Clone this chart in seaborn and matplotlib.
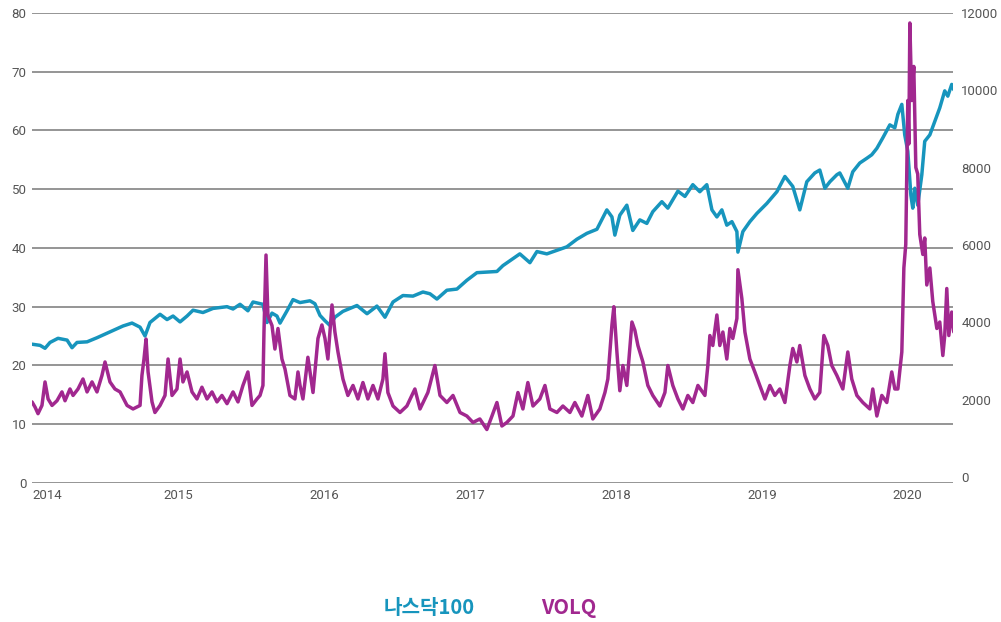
import matplotlib
matplotlib.use("Agg")
import matplotlib.pyplot as plt
import seaborn as sns

# --------------------------
# Data
# --------------------------
years = [2014, 2015, 2016, 2017, 2018, 2019, 2020]
year_labels = ["2014", "2015", "2016", "2017", "2018", "2019", "2020"]

nasdaq_t = [
    2014.000, 2014.055, 2014.089, 2014.123, 2014.178, 2014.240, 2014.274, 2014.308,
    2014.377, 2014.445, 2014.534, 2014.623, 2014.685, 2014.740, 2014.774, 2014.808,
    2014.877, 2014.925, 2014.966, 2015.014, 2015.062, 2015.103, 2015.171, 2015.240,
    2015.336, 2015.377, 2015.425, 2015.479, 2015.514, 2015.582, 2015.610, 2015.644,
    2015.678, 2015.699, 2015.747, 2015.788, 2015.836, 2015.904, 2015.938, 2015.973,
    2016.007, 2016.041, 2016.075, 2016.130, 2016.226, 2016.295, 2016.363, 2016.418,
    2016.473, 2016.541, 2016.610, 2016.678, 2016.726, 2016.774, 2016.842, 2016.911,
    2016.979, 2017.048, 2017.116, 2017.185, 2017.226, 2017.295, 2017.342, 2017.411,
    2017.459, 2017.527, 2017.596, 2017.664, 2017.733, 2017.801, 2017.870, 2017.938,
    2017.973, 2017.993, 2018.027, 2018.075, 2018.116, 2018.164, 2018.212, 2018.253,
    2018.315, 2018.356, 2018.425, 2018.473, 2018.527, 2018.575, 2018.623, 2018.658,
    2018.692, 2018.726, 2018.760, 2018.795, 2018.829, 2018.836, 2018.870, 2018.918,
    2018.966, 2019.034, 2019.103, 2019.158, 2019.212, 2019.260, 2019.308, 2019.363,
    2019.397, 2019.432, 2019.466, 2019.514, 2019.534, 2019.589, 2019.623, 2019.671,
    2019.719, 2019.753, 2019.788, 2019.829, 2019.877, 2019.911, 2019.932, 2019.959,
    2019.979, 2020.000, 2020.021, 2020.034, 2020.048, 2020.068, 2020.096, 2020.116,
    2020.151, 2020.185, 2020.219, 2020.253, 2020.274, 2020.301, 2020.315,
]
nasdaq = [
    3438, 3408, 3332, 3483, 3590, 3544, 3347, 3483,
    3499, 3605, 3756, 3908, 3984, 3878, 3650, 3999,
    4211, 4075, 4166, 4014, 4166, 4317, 4257, 4363,
    4408, 4348, 4469, 4302, 4529, 4469, 3999, 4241,
    4166, 3984, 4302, 4590, 4514, 4560, 4484, 4181,
    4044, 3923, 4135, 4287, 4438, 4226, 4423, 4135,
    4529, 4696, 4681, 4787, 4742, 4605, 4833, 4863,
    5090, 5287, 5303, 5318, 5469, 5651, 5773, 5545,
    5833, 5773, 5864, 5955, 6152, 6303, 6409, 6910,
    6728, 6258, 6773, 7031, 6379, 6652, 6561, 6864,
    7122, 6955, 7395, 7258, 7562, 7380, 7562, 6910,
    6728, 6910, 6515, 6606, 6349, 5818, 6349, 6606,
    6819, 7076, 7380, 7774, 7516, 6910, 7637, 7865,
    7940, 7470, 7637, 7819, 7865, 7470, 7895, 8122,
    8244, 8335, 8501, 8774, 9108, 9032, 9381, 9638,
    8850, 8426, 7289, 6955, 7470, 7031, 7819, 8683,
    8850, 9199, 9547, 9987, 9851, 10154, 10017,
]

volq_t = [
    2014.000, 2014.021, 2014.041, 2014.068, 2014.089, 2014.110, 2014.137, 2014.171,
    2014.205, 2014.226, 2014.260, 2014.281, 2014.315, 2014.349, 2014.377, 2014.411,
    2014.445, 2014.479, 2014.500, 2014.534, 2014.568, 2014.603, 2014.651, 2014.692,
    2014.740, 2014.753, 2014.767, 2014.781, 2014.795, 2014.822, 2014.842, 2014.877,
    2014.911, 2014.932, 2014.959, 2014.993, 2015.014, 2015.034, 2015.062, 2015.096,
    2015.130, 2015.164, 2015.199, 2015.233, 2015.267, 2015.301, 2015.336, 2015.377,
    2015.411, 2015.445, 2015.479, 2015.507, 2015.541, 2015.562, 2015.582, 2015.589,
    2015.603, 2015.616, 2015.644, 2015.664, 2015.685, 2015.712, 2015.733, 2015.767,
    2015.801, 2015.822, 2015.836, 2015.856, 2015.890, 2015.925, 2015.959, 2015.986,
    2016.007, 2016.027, 2016.055, 2016.075, 2016.096, 2016.130, 2016.164, 2016.199,
    2016.233, 2016.267, 2016.301, 2016.336, 2016.370, 2016.404, 2016.418, 2016.438,
    2016.473, 2016.521, 2016.568, 2016.623, 2016.658, 2016.712, 2016.760, 2016.795,
    2016.842, 2016.884, 2016.932, 2016.979, 2017.021, 2017.068, 2017.116, 2017.151,
    2017.185, 2017.219, 2017.253, 2017.295, 2017.329, 2017.363, 2017.397, 2017.432,
    2017.479, 2017.514, 2017.548, 2017.596, 2017.637, 2017.685, 2017.719, 2017.767,
    2017.808, 2017.842, 2017.890, 2017.925, 2017.945, 2017.973, 2017.986, 2018.007,
    2018.027, 2018.048, 2018.075, 2018.110, 2018.130, 2018.151, 2018.185, 2018.219,
    2018.253, 2018.301, 2018.336, 2018.356, 2018.390, 2018.425, 2018.459, 2018.493,
    2018.527, 2018.562, 2018.610, 2018.630, 2018.644, 2018.664, 2018.692, 2018.712,
    2018.733, 2018.760, 2018.781, 2018.801, 2018.829, 2018.836, 2018.863, 2018.884,
    2018.918, 2018.952, 2018.986, 2019.021, 2019.055, 2019.089, 2019.123, 2019.158,
    2019.192, 2019.212, 2019.240, 2019.260, 2019.295, 2019.329, 2019.363, 2019.397,
    2019.425, 2019.452, 2019.479, 2019.514, 2019.555, 2019.589, 2019.616, 2019.651,
    2019.692, 2019.740, 2019.760, 2019.788, 2019.822, 2019.856, 2019.890, 2019.911,
    2019.932, 2019.959, 2019.973, 2019.986, 2020.000, 2020.007, 2020.014, 2020.027,
    2020.041, 2020.055, 2020.068, 2020.082, 2020.103, 2020.116, 2020.130, 2020.151,
    2020.171, 2020.199, 2020.219, 2020.240, 2020.253, 2020.267, 2020.281, 2020.301,
    2020.315,
]
volq = [
    13.8, 12.9, 11.8, 13.2, 17.2, 14.3, 13.2, 14.0,
    15.5, 14.0, 16.0, 14.9, 16.0, 17.7, 15.5, 17.2,
    15.5, 18.3, 20.6, 17.2, 16.0, 15.5, 13.2, 12.6,
    13.2, 18.3, 21.1, 24.5, 18.9, 13.8, 12.0, 13.2,
    14.9, 21.1, 14.9, 16.0, 21.1, 17.2, 18.9, 15.5,
    14.3, 16.3, 14.3, 15.5, 13.8, 14.9, 13.5, 15.5,
    13.8, 16.6, 18.9, 13.2, 14.3, 14.9, 16.6, 25.7,
    38.8, 28.5, 26.8, 22.8, 26.3, 21.1, 19.4, 14.9,
    14.3, 18.9, 16.6, 14.3, 21.4, 15.4, 24.6, 26.9,
    24.6, 21.1, 30.3, 25.7, 22.3, 17.7, 14.9, 16.6,
    14.3, 17.1, 14.3, 16.6, 14.3, 17.7, 22.0, 15.4,
    13.1, 12.0, 13.1, 16.0, 12.6, 15.4, 20.0, 14.9,
    13.7, 14.9, 12.0, 11.4, 10.3, 10.9, 9.1, 11.4,
    13.7, 9.7, 10.3, 11.4, 15.4, 12.6, 17.1, 13.1,
    14.3, 16.6, 12.6, 12.0, 13.1, 12.0, 13.7, 11.4,
    14.9, 10.9, 12.6, 15.4, 17.7, 26.9, 30.0, 22.3,
    15.7, 20.0, 16.6, 27.4, 26.0, 23.4, 20.6, 16.6,
    14.9, 13.1, 15.4, 20.0, 16.6, 14.3, 12.6, 14.9,
    13.7, 16.6, 14.9, 20.0, 25.1, 23.4, 28.6, 23.4,
    25.7, 21.1, 26.3, 24.6, 28.0, 36.3, 31.4, 25.7,
    21.1, 18.9, 16.6, 14.3, 16.6, 14.9, 16.0, 13.7,
    20.0, 22.9, 20.6, 23.4, 18.3, 16.0, 14.3, 15.4,
    25.1, 23.4, 20.0, 18.3, 16.0, 22.3, 17.7, 14.9,
    13.7, 12.6, 16.0, 11.4, 14.9, 13.7, 18.9, 16.0,
    16.0, 22.3, 36.6, 40.6, 65.1, 57.7, 78.3, 65.1,
    70.9, 53.7, 52.6, 42.3, 38.9, 41.7, 33.7, 36.6,
    30.9, 26.3, 27.4, 21.7, 25.1, 33.1, 25.1, 29.1,
    25.7,
]

teal = "#1795bd"
purple = "#a1288f"
grid_gray = "#8c8c8c"
text_gray = "#555555"

sns.set_style("white")
plt.rcParams["font.family"] = ["Roboto", "DejaVu Sans"]

fig = plt.figure(figsize=(10.01, 6.22), dpi=100)
ax = fig.add_axes([0.032, 0.2235, 0.9201, 0.7556])
ax2 = ax.twinx()   # Nasdaq 100 (right axis)
ax3 = ax.twinx()   # VOLQ drawn on top, same scale as left axis

sns.lineplot(x=nasdaq_t, y=nasdaq, ax=ax2, color=teal, linewidth=2.5, label="나스닥100", legend=False)
sns.lineplot(x=volq_t, y=volq, ax=ax3, color=purple, linewidth=2.5, label="VOLQ", legend=False)

# left axis: grid + VOLQ scale
ax.set_xlim(2014.0, 2020.31)
ax.set_ylim(0, 80)
ax.set_yticks(range(0, 81, 10))
ax.yaxis.grid(True, color=grid_gray, linewidth=1.3)
ax.xaxis.grid(False)
ax.set_xticks(years)
ax.set_xticklabels(year_labels)
ax.get_xticklabels()[0].set_ha("left")
ax.tick_params(axis="y", length=0, pad=4, labelsize=9.5, labelcolor=text_gray)
ax.tick_params(axis="x", length=0, pad=4, labelsize=9.5, labelcolor=text_gray)

# right axis: Nasdaq scale
ax2.set_ylim(-150, 12000)
ax2.set_yticks(range(0, 12001, 2000))
ax2.tick_params(axis="y", length=0, pad=6, labelsize=9.5, labelcolor=text_gray)
ax2.grid(False)

ax3.set_ylim(0, 80)
ax3.set_yticks([])
ax3.grid(False)

for a in (ax, ax2, ax3):
    for s in a.spines.values():
        s.set_visible(False)
    a.set_xlabel("")
    a.set_ylabel("")

# legend: coloured bold text only
handles = ax2.get_lines() + ax3.get_lines()
leg = fig.legend(handles, [h.get_label() for h in handles], loc="center",
                 bbox_to_anchor=(0.4895, 0.024), ncol=2, frameon=False,
                 handlelength=0, handletextpad=0, columnspacing=3.3,
                 prop={"family": ["Noto Sans CJK KR", "DejaVu Sans"], "weight": "bold", "size": 14.5})
for h in leg.legend_handles:
    h.set_visible(False)
for txt, c in zip(leg.get_texts(), [teal, purple]):
    txt.set_color(c)

fig.savefig("out.png", dpi=100)
